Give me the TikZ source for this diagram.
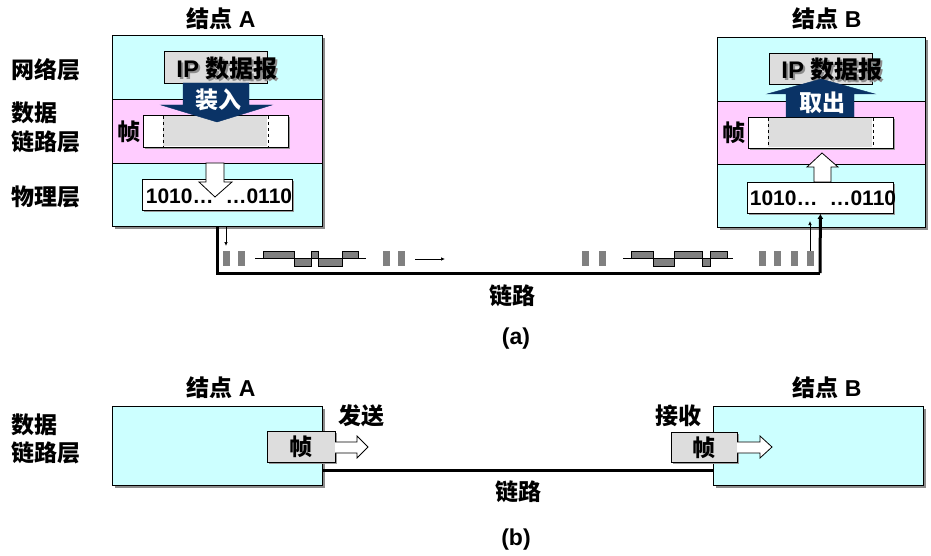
\documentclass[tikz,border=0pt]{standalone}
\usepackage{fontspec}
\setmainfont{Liberation Sans}
\newfontfamily\cjk{Noto Sans CJK SC}
\usetikzlibrary{shadows,arrows.meta}
\definecolor{cyanbg}{HTML}{CCFFFF}
\definecolor{pinkbg}{HTML}{FFCCFF}
\definecolor{lgray}{HTML}{DDDDDD}
\definecolor{navy}{HTML}{0A3366}
\definecolor{pulse}{HTML}{808080}
\newcommand\zh[1]{{\cjk\bfseries #1}}
\newcommand\shadowtext[1]{\makebox[0pt][l]{\hspace{2pt}\raisebox{-2pt}{\textcolor{black!45}{#1}}}#1}
\begin{document}
\begin{tikzpicture}[x=1pt,y=-1pt,
  lbl/.style={font=\bfseries\fontsize{23}{26}\selectfont, inner sep=0pt},
  iplbl/.style={font=\bfseries\fontsize{24}{26}\selectfont, inner sep=0pt},
  bits/.style={font=\bfseries\fontsize{21}{24}\selectfont, inner sep=0pt},
  box/.style={draw=black, line width=0.8pt, inner sep=0pt, anchor=north west},
  shad/.style={drop shadow={shadow xshift=3pt, shadow yshift=-3pt, fill=black!45, opacity=1}},
  sshad/.style={drop shadow={shadow xshift=2pt, shadow yshift=-2pt, fill=black!40, opacity=1}},
  hollow/.style={draw=black, line width=0.8pt, fill=white},
  solidarr/.style={draw=navy, fill=navy},
  pulsebox/.style={fill=pulse, draw=none},
  wave/.style={fill=pulse, draw=black, line width=0.7pt},
  thin/.style={line width=0.7pt, -{Latex[length=4pt,width=3.5pt]}},
  link/.style={line width=3pt}
]
\useasboundingbox (0,0) rectangle (931,556);

% ================= (a) =================
% node A
\node[box, shad, minimum width=210pt, minimum height=191pt] (nodeA) at (112,35) {};
\node[box, fill=cyanbg, minimum width=210pt, minimum height=64pt] (netA) at (112,35) {};
\node[box, fill=pinkbg, minimum width=210pt, minimum height=64pt] (dlA) at (112,99) {};
\node[box, fill=cyanbg, minimum width=210pt, minimum height=63pt] (phyA) at (112,163) {};
% node B
\node[box, shad, minimum width=208pt, minimum height=190pt] (nodeB) at (717,37) {};
\node[box, fill=cyanbg, minimum width=208pt, minimum height=64pt] (netB) at (717,37) {};
\node[box, fill=pinkbg, minimum width=208pt, minimum height=63pt] (dlB) at (717,101) {};
\node[box, fill=cyanbg, minimum width=208pt, minimum height=63pt] (phyB) at (717,164) {};

% titles
\node[lbl] (tA) at (221,19) {\zh{结点} A};
\node[lbl] (tB) at (827,19) {\zh{结点} B};
\node[lbl, anchor=west] (l1) at (11,70) {\zh{网络层}};
\node[lbl, anchor=west] (l2) at (11,113) {\zh{数据}};
\node[lbl, anchor=west] (l3) at (11,142) {\zh{链路层}};
\node[lbl, anchor=west] (l4) at (11,197) {\zh{物理层}};

% IP datagram boxes
\node[box, fill=lgray, minimum width=103pt, minimum height=32pt] (ipA) at (164,51) {};
\node[iplbl] (ipAt) at (227,69) {\shadowtext{IP \zh{数据报}}};
\node[box, fill=lgray, minimum width=103pt, minimum height=31pt] (ipB) at (769,53) {};
\node[iplbl] (ipBt) at (832,70) {\shadowtext{IP \zh{数据报}}};

% frame boxes
\node[box, sshad, fill=white, minimum width=145pt, minimum height=32pt] (frA) at (143,115) {};
\node[box, draw=none, fill=lgray, minimum width=104pt, minimum height=30pt] (frAin) at (163,116) {};
\draw[dashed, line width=0.6pt] (frAin.north west) -- (frAin.south west) (frAin.north east) -- (frAin.south east);
\node[lbl] (fA) at (129,132) {\zh{帧}};
\node[box, sshad, fill=white, minimum width=145pt, minimum height=31pt] (frB) at (748,117) {};
\node[box, draw=none, fill=lgray, minimum width=104pt, minimum height=29pt] (frBin) at (768,118) {};
\draw[dashed, line width=0.6pt] (frBin.north west) -- (frBin.south west) (frBin.north east) -- (frBin.south east);
\node[lbl] (fB) at (734,133) {\zh{帧}};

% bits boxes
\node[box, sshad, fill=white, minimum width=150pt, minimum height=31pt] (bitsA) at (142,179) {};
\node[bits] (bitsAt) at (219,196) {1010…\hspace{12pt}…0110};
\node[box, sshad, fill=white, minimum width=146pt, minimum height=31pt] (bitsB) at (747,182) {};
\node[bits] (bitsBt) at (823,198) {1010…\hspace{12pt}…0110};

% 装入 arrow
\path[solidarr] (183,83) -- (249,83) -- (249,105) -- (272,105) -- (217,122) -- (161,105) -- (183,105) -- cycle;
\node[lbl, text=white] (inA) at (218,100) {\zh{装入}};
% 取出 arrow
\path[solidarr] (786,117) -- (854,117) -- (854,94) -- (875,94) -- (821,79) -- (767,94) -- (786,94) -- cycle;
\node[lbl, text=white] (outB) at (822,103) {\zh{取出}};

% hollow arrows (a)
\draw[hollow] (206,163) -- (224,163) -- (224,182) -- (232,182) -- (215,197) -- (199,182) -- (206,182) -- cycle;
\draw[hollow] (814,182) -- (831,182) -- (831,167) -- (838,167) -- (822,153) -- (807,167) -- (814,167) -- cycle;

% link
\coordinate (bend) at (820,273);
\draw[link] (phyA.south) |- (bend);
\draw[line width=3pt, -{Latex[length=5pt,width=6pt]}] (bend) -- (bitsB.south);
\coordinate (ta1) at (226,227);
\coordinate (ta2) at (226,246);
\draw[thin] (ta1) -- (ta2);
\coordinate (tb1) at (810,251);
\coordinate (tb2) at (810,221);
\draw[thin] (tb1) -- (tb2);
\coordinate (tm1) at (415,259);
\coordinate (tm2) at (445,259);
\draw[thin] (tm1) -- (tm2);

% pulses
\foreach \x in {223,238,383,398,582,599,759,774,791,807}
  \path[pulsebox] (\x,251) rectangle ++(7,15);
% waveform left
\draw[wave] (263,251) rectangle (294,258);
\draw[wave] (294,258) rectangle (311,266);
\draw[wave] (311,251) rectangle (318,258);
\draw[wave] (318,258) rectangle (342,266);
\draw[wave] (342,251) rectangle (358,258);
\draw[line width=0.7pt] (255,258) -- (366,258);
% waveform right
\draw[wave] (631,251) rectangle (653,258);
\draw[wave] (653,258) rectangle (674,266);
\draw[wave] (674,251) rectangle (702,258);
\draw[wave] (702,258) rectangle (710,266);
\draw[wave] (710,251) rectangle (727,258);
\draw[line width=0.7pt] (623,258) -- (733,258);

\node[lbl] (linka) at (512,296) {\zh{链路}};
\node[lbl] (capa) at (516,339) {(a)};

% ================= (b) =================
\node[box, shad, fill=cyanbg, minimum width=210pt, minimum height=79pt] (nA2) at (112,406) {};
\node[box, shad, fill=cyanbg, minimum width=210pt, minimum height=79pt] (nB2) at (713,406) {};
\node[lbl] (tA2) at (221,388) {\zh{结点} A};
\node[lbl] (tB2) at (827,388) {\zh{结点} B};
\node[lbl, anchor=west] (l5) at (11,425) {\zh{数据}};
\node[lbl, anchor=west] (l6) at (11,453) {\zh{链路层}};

\draw[link] (nA2.east |- 0,470) -- (nB2.west |- 0,470);

\node[box, sshad, fill=lgray, minimum width=68pt, minimum height=31pt] (fA2) at (267,431) {};
\node[lbl] (fA2t) at (fA2.center) {\zh{帧}};
\node[box, sshad, fill=lgray, minimum width=66pt, minimum height=30pt] (fB2) at (671,432) {};
\node[lbl] (fB2t) at (fB2.center) {\zh{帧}};

\draw[hollow] (335,442) -- (357,442) -- (357,436) -- (368,447) -- (357,458) -- (357,453) -- (335,453);
\draw[hollow] (737,442) -- (760,442) -- (760,436) -- (772,447) -- (760,458) -- (760,453) -- (737,453);

\node[lbl] (send) at (361,416) {\zh{发送}};
\node[lbl] (recv) at (678,416) {\zh{接收}};
\node[lbl] (linkb) at (518,492) {\zh{链路}};
\node[lbl] (capb) at (516,540) {(b)};
\end{tikzpicture}
\end{document}
